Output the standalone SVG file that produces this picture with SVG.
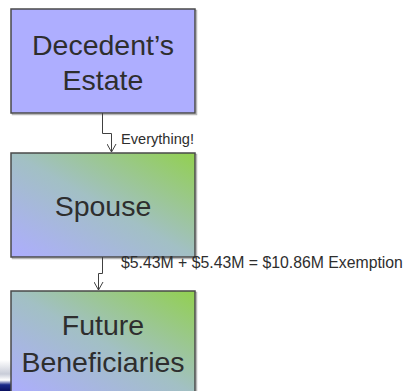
<svg xmlns="http://www.w3.org/2000/svg" width="406" height="391" viewBox="0 0 406 391">
  <defs>
    <linearGradient id="fade" x1="0" y1="1" x2="1" y2="0">
      <stop offset="0" stop-color="#ADADFF"/>
      <stop offset="0.5" stop-color="#A2C0C4"/>
      <stop offset="1" stop-color="#92D050"/>
    </linearGradient>
    <linearGradient id="swoosh" x1="0" y1="0" x2="0" y2="1">
      <stop offset="0" stop-color="#FFFFFF"/>
      <stop offset="0.45" stop-color="#C8CCD8"/>
      <stop offset="0.65" stop-color="#FFFFFF"/>
      <stop offset="0.8" stop-color="#1A2A8A"/>
      <stop offset="1" stop-color="#0A1060"/>
    </linearGradient>
    <marker id="arrow" viewBox="0 0 10 10" refX="9" refY="5" markerWidth="10" markerHeight="10" markerUnits="userSpaceOnUse" orient="auto">
      <path d="M1,0.5 L9,5 L1,9.5" fill="none" stroke="#404040" stroke-width="1"/>
    </marker>
  </defs>
  <style>
    .shadow { fill: none; stroke: #B8B8B8; stroke-width: 1.5; }
    .box { stroke: #4A4A4A; stroke-width: 1.5; }
    .big { font-family: "Liberation Sans", Arial, sans-serif; font-size: 28.5px; fill: #2E2E2E; text-anchor: middle; }
    .lbl { font-family: "Liberation Sans", Arial, sans-serif; fill: #2E2E2E; }
    .wire { fill: none; stroke: #404040; stroke-width: 1; }
  </style>

  <!-- slide background corner -->
  <rect x="0" y="360" width="12" height="31" fill="url(#swoosh)"/>

  <g id="estate">
    <rect class="shadow" x="12.5" y="10.5" width="184" height="104"/>
    <rect class="box" x="11" y="9" width="184" height="104" fill="#AEAEFF"/>
    <text class="big" x="103" y="55">Decedent’s</text>
    <text class="big" x="103" y="90">Estate</text>
  </g>

  <g id="spouse">
    <rect class="shadow" x="12.5" y="154.5" width="184" height="104"/>
    <rect class="box" x="11" y="153" width="184" height="104" fill="url(#fade)"/>
    <text class="big" x="103" y="216">Spouse</text>
  </g>

  <g id="beneficiaries">
    <rect class="shadow" x="12.5" y="292.5" width="184" height="104"/>
    <rect class="box" x="11" y="291" width="184" height="104" fill="url(#fade)"/>
    <text class="big" x="103" y="335">Future</text>
    <text class="big" x="103" y="372">Beneficiaries</text>
  </g>

  <g id="connectors">
    <path class="wire" d="M102.5,113 V133.5 H111.5 V152" marker-end="url(#arrow)"/>
    <text class="lbl" x="121" y="144" font-size="14.6">Everything!</text>
    <path class="wire" d="M102.5,257 V273.5 H98.5 V290" marker-end="url(#arrow)"/>
    <text class="lbl" x="121" y="268" font-size="15.8">$5.43M + $5.43M = $10.86M Exemption</text>
  </g>
</svg>
